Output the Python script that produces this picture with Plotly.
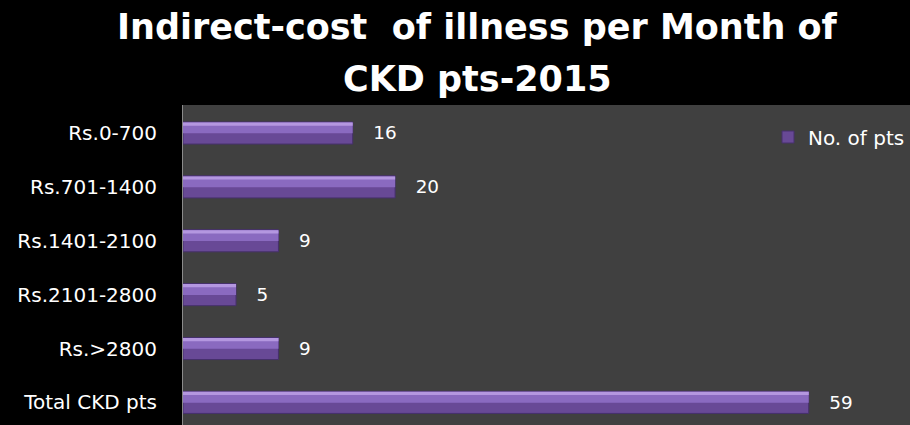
import plotly.graph_objects as go

categories = ["Rs.0-700", "Rs.701-1400", "Rs.1401-2100", "Rs.2101-2800", "Rs.>2800", "Total CKD pts"]
values = [16, 20, 9, 5, 9, 59]
series_name = "No. of pts"
title_lines = ["Indirect-cost  of illness per Month of", "CKD pts-2015"]

font_family = "DejaVu Sans, sans-serif"
title_font = dict(family="DejaVu Sans, sans-serif", size=35, color="white", weight="bold")

fig = go.Figure()
fig.add_trace(go.Bar(
    y=categories, x=values, orientation="h", name=series_name,
    width=0.41,
    marker=dict(color="#684996", line=dict(color="#46306c", width=1)),
    texttemplate="   %{x}", textposition="outside",
    textfont=dict(color="white", size=20, family=font_family),
    cliponaxis=False,
))
fig.add_trace(go.Bar(
    y=categories, x=values, orientation="h", showlegend=False,
    width=0.2, offset=-0.195,
    marker=dict(color="#8a6ac0", line=dict(width=0)),
    hoverinfo="skip",
))
fig.add_trace(go.Bar(
    y=categories, x=values, orientation="h", showlegend=False,
    width=0.06, offset=-0.195,
    marker=dict(color="#b497e0", line=dict(width=0)),
    hoverinfo="skip",
))

annotations = [
    dict(text=title_lines[0], x=0.405, y=1.245, xref="paper", yref="paper",
         xanchor="center", yanchor="middle", showarrow=False, font=title_font),
    dict(text=title_lines[1], x=0.405, y=1.082, xref="paper", yref="paper",
         xanchor="center", yanchor="middle", showarrow=False, font=title_font),
]

fig.update_layout(
    width=910, height=425,
    barmode="overlay",
    paper_bgcolor="black",
    plot_bgcolor="#404040",
    margin=dict(l=183, r=0, t=105, b=0),
    annotations=annotations,
    showlegend=True,
    legend=dict(x=1.0, y=0.9, xanchor="right", yanchor="middle", bgcolor="rgba(0,0,0,0)",
                font=dict(color="white", size=20, family=font_family),
                itemwidth=30),
    font=dict(family=font_family, color="white"),
)
fig.update_xaxes(range=[0, 68.55], showgrid=False, zeroline=False, showticklabels=False,
                 ticks="", showline=False)
fig.update_yaxes(categoryorder="array", categoryarray=categories, range=[5.42, -0.52],
                 showgrid=False, zeroline=False, showline=True, linecolor="#8a8a8a", linewidth=1,
                 ticks="", ticklabelstandoff=21,
                 tickfont=dict(color="white", size=20, family=font_family))

fig.write_html("out.html", config={"displayModeBar": False},
               post_script="document.body.style.margin='0';document.body.style.background='black';")
